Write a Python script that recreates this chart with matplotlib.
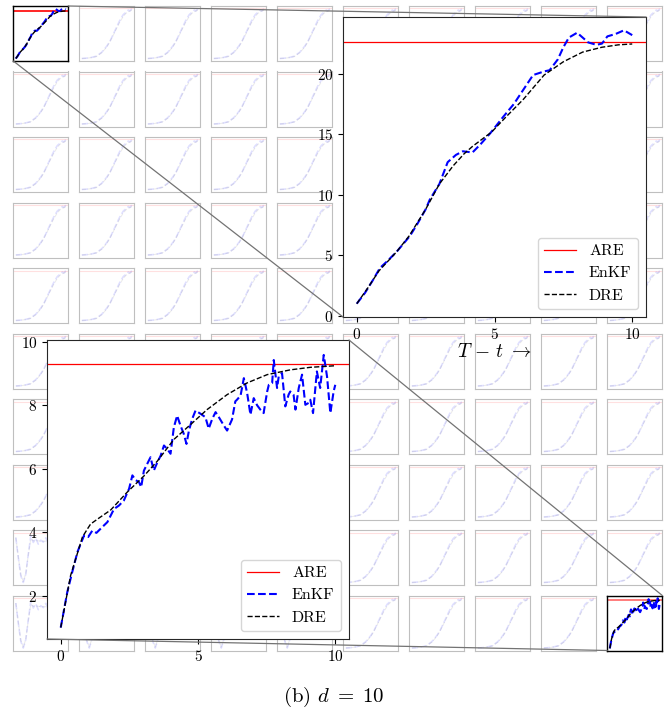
import numpy as np
import matplotlib
matplotlib.use("Agg")
import matplotlib.pyplot as plt
from matplotlib.patches import ConnectionPatch

plt.rcParams['font.family'] = ['cmr10', 'DejaVu Serif']
plt.rcParams['mathtext.fontset'] = 'cm'
plt.rcParams['axes.formatter.use_mathtext'] = True

# верхняя вставка: элемент (1,1)
t1_enkf = [0, 0.3, 0.6, 0.84, 1.1, 1.45, 1.93, 2.2, 2.5, 2.65, 3.0, 3.3, 3.6, 3.85, 4.2, 4.5,
           4.85, 5.3, 5.7, 6.05, 6.4, 6.8, 7.0, 7.3, 7.5, 7.7, 8.0, 8.2, 8.4, 8.7, 8.9, 9.1,
           9.4, 9.7, 10.0]
enkf1 = [1.0, 1.9, 3.0, 3.95, 4.5, 5.3, 6.6, 7.6, 8.8, 9.6, 10.9, 12.7, 13.3, 13.6, 13.5, 14.2,
         15.1, 16.4, 17.5, 18.7, 19.9, 20.2, 20.3, 21.2, 22.2, 23.0, 23.4, 23.0, 22.6, 22.4, 22.5, 23.1,
         23.3, 23.6, 23.2]
t1_dre = [0, 0.4, 0.8, 1.45, 1.9, 2.5, 3.0, 3.5, 3.9, 4.2, 4.9, 5.4, 6.05, 6.8, 7.5, 8.2, 8.9, 9.5, 10.0]
dre1 = [1.0, 2.3, 3.7, 5.3, 6.6, 8.8, 10.9, 12.4, 13.4, 14.0, 15.2, 16.4, 17.9, 19.9, 21.0, 21.8,
        22.2, 22.4, 22.47]
are1 = 22.65

# нижняя вставка: элемент (10,10)
t2_enkf = [0, 0.24, 0.42, 0.61, 0.85, 1.0, 1.15, 1.3,
           1.51, 1.7, 1.94, 2.12, 2.3, 2.49, 2.61, 2.73, 2.85, 2.93,
           3.03, 3.15, 3.27, 3.39, 3.52, 3.64, 3.76, 3.88, 4.0,
           4.12, 4.24, 4.36, 4.48, 4.58, 4.67, 4.79, 4.91,
           5.09, 5.27, 5.39, 5.52, 5.64, 5.76, 5.94, 6.06,
           6.24, 6.36, 6.42, 6.55, 6.67, 6.79, 6.91, 7.03, 7.15, 7.27, 7.39, 7.52,
           7.58, 7.7, 7.76, 7.88, 7.94, 8.06, 8.18, 8.3, 8.36, 8.48, 8.55, 8.67,
           8.79, 8.91, 9.03, 9.09, 9.19, 9.33, 9.45, 9.58, 9.7, 9.82, 9.94, 10.0]
enkf2 = [1.0, 2.12, 2.75, 3.38, 3.9, 3.85, 4.05, 3.98,
         4.16, 4.32, 4.73, 4.84, 5.0, 5.37, 5.79, 5.64, 5.58, 5.42,
         5.94, 6.15, 6.36, 5.94, 6.2, 6.41, 6.73, 6.62, 6.47,
         7.3, 7.67, 7.36, 7.1, 6.78, 7.2, 7.57, 7.83,
         7.73, 7.62, 7.26, 7.57, 7.78, 7.62, 7.36, 7.2,
         7.55, 8.12, 8.17, 8.3, 8.85, 8.38, 7.7, 8.22, 8.0, 7.86, 7.75, 8.43,
         8.64, 8.69, 9.42, 8.54, 8.9, 9.01, 7.96, 8.33, 8.43, 8.33, 7.86, 8.54,
         8.96, 8.01, 8.07, 8.17, 7.75, 9.06, 8.54, 9.58, 8.9, 7.75, 8.43, 8.64]
t2_dre = [0, 0.36, 0.79, 0.97, 1.09, 1.4, 1.82, 2.42, 3.03, 3.52, 4.12, 4.73, 5.33, 6.06, 6.79,
          7.52, 8.36, 9.09, 10.0]
dre2 = [1.0, 2.64, 3.85, 4.1, 4.26, 4.45, 4.7, 5.26, 5.77, 6.24, 6.92, 7.39, 7.86, 8.33, 8.7,
        8.96, 9.11, 9.19, 9.24]
are2 = 9.29

# бледные клетки: типичные формы кривых
cell_t = [0, 1, 2, 2.9, 4, 5, 5.6, 6.3, 7, 7.6, 8.3, 8.9, 9.3, 9.6, 10]
cell_dre = [0.2, 0.3, 0.6, 1.0, 2.5, 4.8, 6.8, 9.5, 12.3, 14.6, 16.9, 18.2, 18.7, 19.0, 19.3]
cell_enkf = [0.2, 0.35, 0.65, 1.1, 2.7, 5.1, 6.9, 9.8, 12.8, 15.3, 17.6, 18.6, 19.4, 19.0, 19.9]
cell_are = 20.0
dip_t = [0, 0.5, 1, 1.5, 2, 2.5, 3, 3.5, 4, 4.5, 5, 5.5, 6, 6.5, 7, 7.5, 8, 8.5, 9, 9.5, 10]
dip_enkf = [15.0, 9.0, 3.5, 1.5, 4.0, 10.0, 15.5, 13.5, 14.8, 13.0, 14.2, 13.6, 14.9, 13.2,
            14.0, 13.5, 14.6, 13.1, 14.3, 13.8, 14.0]
dip_dre = [15.0, 9.2, 3.8, 1.8, 4.2, 9.8, 14.6, 14.0, 14.1, 14.0, 13.9, 13.9, 13.9, 13.9,
           13.9, 13.9, 13.9, 13.9, 13.9, 13.9, 13.9]
dip_are = 16.5

n = 10
W, H = 672, 709
fig = plt.figure(figsize=(W / 100, H / 100), dpi=100)


def px_axes(x0, y0, w, h):
    return fig.add_axes([x0 / W, 1 - (y0 + h) / H, w / W, h / H])


cells = {}
for i in range(n):
    for j in range(n):
        ax = px_axes(13.3 + 66 * j, 6 + 65.5 * i, 55, 55)
        ax.set_xticks([])
        ax.set_yticks([])
        cells[(i, j)] = ax
        hi = (i, j) in [(0, 0), (n - 1, n - 1)]
        if (i, j) == (0, 0):
            ax.axhline(are1, color='red', lw=1.2)
            ax.plot(t1_enkf, enkf1, 'b--', lw=1.5)
            ax.plot(t1_dre, dre1, 'k--', lw=1)
            ax.set_ylim(-0.1, 24.7)
        elif (i, j) == (n - 1, n - 1):
            ax.axhline(are2, color='red', lw=1.2, alpha=0.6)
            ax.plot(t2_enkf, enkf2, 'b--', lw=1.5)
            ax.plot(t2_dre, dre2, 'k--', lw=1)
            ax.set_ylim(0.64, 10.05)
        elif i >= 8 and j <= 4:
            ax.axhline(dip_are, color='red', lw=0.8, alpha=0.12)
            ax.plot(dip_t, dip_enkf, 'b--', lw=1.2, alpha=0.12)
            ax.plot(dip_t, dip_dre, 'k--', lw=0.8, alpha=0.08)
        else:
            ax.axhline(cell_are, color='red', lw=0.8, alpha=0.12)
            ax.plot(cell_t, cell_enkf, 'b--', lw=1.2, alpha=0.12)
            ax.plot(cell_t, cell_dre, 'k--', lw=0.8, alpha=0.08)
        ax.set_xlim(-0.5, 10.5)
        for s in ax.spines.values():
            s.set_color('black' if hi else '0.75')
            s.set_linewidth(1.0 if hi else 0.8)

# вставки
ins1 = px_axes(343, 17, 303, 300)
ins1.axhline(are1, color='red', lw=0.9, label='ARE')
ins1.plot(t1_enkf, enkf1, 'b--', lw=1.5, label='EnKF')
ins1.plot(t1_dre, dre1, 'k--', lw=1, label='DRE')
ins1.set_xlim(-0.5, 10.5)
ins1.set_ylim(-0.1, 24.7)
ins1.set_xticks([0, 5, 10])
ins1.set_yticks([0, 5, 10, 15, 20])
ins1.set_xlabel(r'$T\,-\,t\;\rightarrow$', fontsize=14, labelpad=1)
ins1.legend(loc='lower right', fontsize=11.5)

ins2 = px_axes(47, 340, 302, 299)
ins2.axhline(are2, color='red', lw=0.9, label='ARE')
ins2.plot(t2_enkf, enkf2, 'b--', lw=1.5, label='EnKF')
ins2.plot(t2_dre, dre2, 'k--', lw=1, label='DRE')
ins2.set_xlim(-0.5, 10.5)
ins2.set_ylim(0.64, 10.05)
ins2.set_xticks([0, 5, 10])
ins2.set_yticks([2, 4, 6, 8, 10])
ins2.legend(loc='lower right', fontsize=11.5)

for ax in (ins1, ins2):
    ax.tick_params(labelsize=11)
    for s in ax.spines.values():
        s.set_color('0.15')

# соединительные линии
for cell, ins in [(cells[(0, 0)], ins1), (cells[(n - 1, n - 1)], ins2)]:
    for corner in [(1, 1), (0, 0)]:
        con = ConnectionPatch(xyA=corner, coordsA=cell.transAxes,
                              xyB=corner, coordsB=ins.transAxes,
                              color='0.45', lw=0.9)
        fig.add_artist(con)

fig.text(0.497, 1 - 697 / H, r'(b) $d\;=\;10$', ha='center', va='center', fontsize=15)

fig.savefig('out.png', dpi=100)
